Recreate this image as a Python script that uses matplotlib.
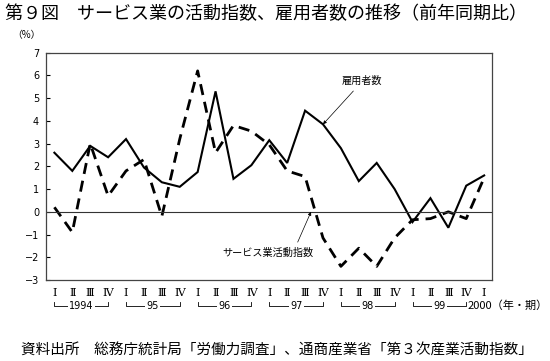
import numpy as np
import matplotlib.pyplot as plt
from matplotlib import transforms

plt.rcParams['font.family'] = ['Noto Sans CJK JP', 'DejaVu Sans']

quarters = ['Ⅰ', 'Ⅱ', 'Ⅲ', 'Ⅳ'] * 6 + ['Ⅰ']
years = ['1994', '95', '96', '97', '98', '99']
employees = [2.6, 1.8, 2.9, 2.4, 3.2, 1.95, 1.3, 1.1,
             1.75, 5.3, 1.45, 2.05, 3.15, 2.15, 4.45, 3.85,
             2.8, 1.35, 2.15, 1.0, -0.45, 0.6, -0.7, 1.15, 1.6]
service = [0.2, -0.9, 3.0, 0.7, 1.8, 2.3, -0.2, 3.2,
           6.2, 2.6, 3.8, 3.55, 2.95, 1.8, 1.55, -1.15,
           -2.4, -1.6, -2.4, -1.15, -0.35, -0.3, 0.0, -0.3, 1.5]


def main():
    fig = plt.figure(figsize=(5.5, 3.61), dpi=100)
    ax = fig.add_axes([0.0836, 0.2244, 0.811, 0.6296])
    x = np.arange(len(employees))

    ax.plot(x, employees, color='black', lw=1.5, solid_joinstyle='miter')
    ax.plot(x, service, color='black', lw=2.0, linestyle=(0, (4, 2.5)))
    ax.axhline(0, color='#333333', lw=0.8)

    ax.set_xlim(-0.47, 24.44)
    ax.set_ylim(-3, 7)
    ax.set_yticks(range(-3, 8))
    ax.tick_params(axis='y', direction='in', length=3, width=0.8,
                   labelsize=7, pad=5)
    for lab in ax.get_yticklabels():
        lab.set_family('DejaVu Sans')
    ax.set_xticks(x)
    ax.set_xticklabels(quarters, family=['DejaVu Serif', 'Noto Sans CJK JP'],
                       fontsize=8)
    ax.tick_params(axis='x', length=0, pad=5.5)
    for s in ax.spines.values():
        s.set_color('#444444')
        s.set_linewidth(0.9)

    # year brackets under the quarter labels
    tr = transforms.blended_transform_factory(ax.transData, fig.transFigure)
    y_line = 1 - 306 / 361
    y_top = 1 - 302 / 361
    for k, yr in enumerate(years):
        x0, x1 = 4 * k, 4 * k + 3
        ax.plot([x0, x0, x1, x1], [y_top, y_line, y_line, y_top], transform=tr,
                color='black', lw=0.6, clip_on=False)
        ax.text((x0 + x1) / 2, y_line, yr, transform=tr, ha='center',
                va='center', fontsize=7, family='DejaVu Sans',
                bbox=dict(facecolor='white', edgecolor='none', pad=1.0))
    fig.text(468 / 550, 1 - 306 / 361, '2000（年・期）', ha='left',
             va='center', fontsize=8)

    ax.annotate('雇用者数', xy=(15, 3.85), xytext=(17.2, 5.75),
                ha='center', va='center', fontsize=7.3,
                arrowprops=dict(arrowstyle='-|>', color='black', lw=0.5,
                                mutation_scale=5, shrinkA=2, shrinkB=0))
    ax.annotate('サービス業活動指数', xy=(14.33, 0), xytext=(11.93, -1.79),
                ha='center', va='center', fontsize=7.3,
                arrowprops=dict(arrowstyle='-|>', color='black', lw=0.5,
                                mutation_scale=5, shrinkA=2, shrinkB=0,
                                relpos=(0.8, 1.0)))

    fig.text(12 / 550, 1 - 35 / 361, '（%）', ha='left', va='center',
             fontsize=7)
    fig.text(5 / 550, 1 - 14 / 361,
             '第９図　サービス業の活動指数、雇用者数の推移（前年同期比）',
             ha='left', va='center', fontsize=13)
    fig.text(21 / 550, 1 - 351 / 361,
             '資料出所　総務庁統計局「労働力調査」、通商産業省「第３次産業活動指数」',
             ha='left', va='center', fontsize=10.5)

    fig.savefig('out.png', dpi=100)


if __name__ == "__main__":
    main()
